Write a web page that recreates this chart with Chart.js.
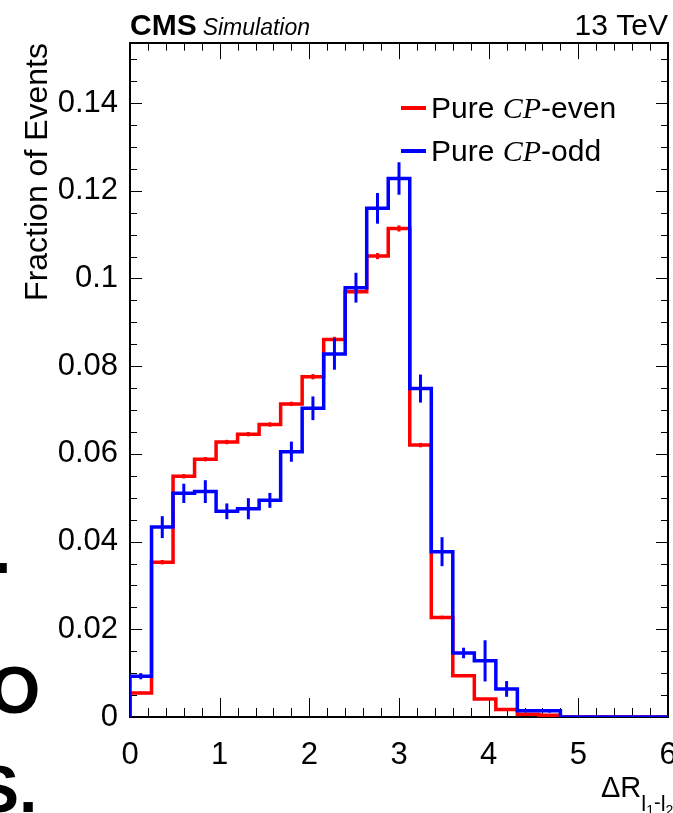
<!DOCTYPE html>
<html>
<head>
<meta charset="utf-8">
<title>Delta R l1-l2</title>
<script src="https://cdn.jsdelivr.net/npm/chart.js@4.4.0/dist/chart.umd.min.js"></script>
<style>
  html, body { margin: 0; padding: 0; background: #fff; }
  #wrap { width: 673px; height: 813px; position: relative; }
</style>
</head>
<body>
<div id="wrap"><canvas id="drChart"></canvas></div>
<script>
// Delta R between the two leptons, normalised to unit area (25 bins over 0..6)
const binWidth = 0.24
const binEdges = [0, 0.24, 0.48, 0.72, 0.96, 1.2, 1.44, 1.68, 1.92, 2.16, 2.4, 2.64, 2.88,
  3.12, 3.36, 3.6, 3.84, 4.08, 4.32, 4.56, 4.8, 5.04, 5.28, 5.52, 5.76, 6]

const evenValues = [0.0055, 0.0353, 0.0549, 0.0588, 0.0627, 0.0645, 0.0667, 0.0714, 0.0776, 0.0861,
  0.0970, 0.1051, 0.1114, 0.0620, 0.0227, 0.0094, 0.0041, 0.0017, 0.0006, 0.0004, 0, 0, 0, 0, 0]
const evenErrors = [0.0003, 0.0005, 0.0005, 0.0005, 0.0005, 0.0005, 0.0005, 0.0005, 0.0006, 0.0006,
  0.0006, 0.0007, 0.0007, 0.0005, 0.0004, 0.0003, 0.0002, 0.0001, 0.0001, 0.0001, 0, 0, 0, 0, 0]

const oddValues = [0.0093, 0.0433, 0.0510, 0.0514, 0.0469, 0.0475, 0.0494, 0.0605, 0.0704, 0.0828,
  0.0979, 0.1160, 0.1228, 0.0749, 0.0377, 0.0146, 0.0128, 0.0064, 0.0014, 0.0014, 0, 0, 0, 0, 0]
const oddErrors = [0.0007, 0.0025, 0.0022, 0.0026, 0.0018, 0.0024, 0.0017, 0.0023, 0.0027, 0.0036,
  0.0034, 0.0035, 0.0037, 0.0032, 0.0033, 0.0012, 0.0047, 0.0018, 0.0003, 0.0004, 0, 0, 0, 0, 0]

const xTicks = [0, 1, 2, 3, 4, 5, 6]
const yTicks = [0, 0.02, 0.04, 0.06, 0.08, 0.1, 0.12, 0.14]

const RED = '#ff0000'
const BLUE = '#0000ff'
const SANS = '"Liberation Sans", Arial, Helvetica, sans-serif'

// histogram as a step line: start at 0, then one point per left bin edge, close at 6
function stepPoints(values) {
  const pts = [{ x: binEdges[0], y: 0 }]
  values.forEach((v, i) => pts.push({ x: binEdges[i], y: v }))
  pts.push({ x: binEdges[binEdges.length - 1], y: values[values.length - 1] })
  return pts
}

const rootStyle = {
  id: 'rootStyle',
  beforeDraw(chart) {
    const ctx = chart.ctx
    ctx.save()
    ctx.fillStyle = '#fff'
    ctx.fillRect(0, 0, chart.width, chart.height)
    ctx.restore()
  },
  beforeDatasetsDraw(chart) {
    const { ctx, chartArea: a, scales } = chart
    const xs = scales.x, ys = scales.y
    ctx.save()
    ctx.strokeStyle = '#000'
    ctx.lineWidth = 1
    // x ticks: minor every 0.2, major every 1 (bottom and top)
    for (let k = 0; k <= 30; k++) {
      const px = Math.round(xs.getPixelForValue(k * 0.2)) + 0.5
      const len = k % 5 === 0 ? 19 : 9
      ctx.beginPath()
      ctx.moveTo(px, a.bottom); ctx.lineTo(px, a.bottom - len)
      ctx.moveTo(px, a.top); ctx.lineTo(px, a.top + len * 0.85)
      ctx.stroke()
    }
    // y ticks: minor every 0.005, major every 0.02 (left and right)
    for (let k = 0; k * 0.005 <= ys.max + 1e-9; k++) {
      const py = Math.round(ys.getPixelForValue(k * 0.005)) + 0.5
      const len = k % 4 === 0 ? 12 : 7
      ctx.beginPath()
      ctx.moveTo(a.left, py); ctx.lineTo(a.left + len, py)
      ctx.moveTo(a.right, py); ctx.lineTo(a.right - len, py)
      ctx.stroke()
    }
    ctx.lineWidth = 2
    ctx.strokeRect(a.left, a.top, a.right - a.left, a.bottom - a.top)
    ctx.restore()
  },
  afterDatasetDraw(chart, args) {
    const ds = chart.data.datasets[args.index]
    const errs = ds.errors, vals = ds.values
    const { ctx, scales } = chart
    ctx.save()
    ctx.strokeStyle = ds.borderColor
    ctx.lineWidth = 3
    vals.forEach((v, i) => {
      if (!errs[i]) return
      const px = scales.x.getPixelForValue(binEdges[i] + binWidth / 2)
      ctx.beginPath()
      ctx.moveTo(px, scales.y.getPixelForValue(v - errs[i]))
      ctx.lineTo(px, scales.y.getPixelForValue(v + errs[i]))
      ctx.stroke()
    })
    ctx.restore()
  },
  afterDraw(chart) {
    const { ctx, chartArea: a } = chart
    ctx.save()
    ctx.fillStyle = '#000'
    ctx.textBaseline = 'alphabetic'

    // header
    ctx.font = 'bold 30px ' + SANS
    ctx.textAlign = 'left'
    ctx.fillText('CMS', a.left, 35)
    const cmsW = ctx.measureText('CMS').width
    ctx.font = 'italic 23px ' + SANS
    ctx.fillText('Simulation', a.left + cmsW + 6, 35)
    ctx.font = '30px ' + SANS
    ctx.textAlign = 'right'
    ctx.fillText('13 TeV', a.right, 35)

    // y title, aligned to the top of the axis
    ctx.save()
    ctx.translate(47, a.top)
    ctx.rotate(-Math.PI / 2)
    ctx.font = '32px ' + SANS
    ctx.textAlign = 'right'
    ctx.fillText('Fraction of Events', 0, 0)
    ctx.restore()

    // x title: ΔR_{l1-l2}
    ctx.textAlign = 'left'
    let x = 601
    const base = 797
    const parts = [
      ['ΔR', '29px', 0], ['l', '22px', 14], ['1', '14px', 18], ['-', '20px', 12],
      ['l', '22px', 14], ['2', '14px', 18]
    ]
    parts.forEach(([t, size, dy]) => {
      ctx.font = size + ' ' + SANS
      ctx.fillText(t, x, base + dy)
      x += ctx.measureText(t).width
    })

    // legend
    const legend = [[RED, '-even', 108], [BLUE, '-odd', 151]]
    legend.forEach(([col, tail, y]) => {
      ctx.strokeStyle = col
      ctx.lineWidth = 4
      ctx.beginPath(); ctx.moveTo(401, y); ctx.lineTo(426, y); ctx.stroke()
      let lx = 431
      const by = y + 10
      ctx.font = '30px ' + SANS
      ctx.fillText('Pure ', lx, by); lx += ctx.measureText('Pure ').width
      ctx.font = 'italic 30px "Liberation Serif", "Times New Roman", serif'
      ctx.fillText('CP', lx, by); lx += ctx.measureText('CP').width
      ctx.font = '30px ' + SANS
      ctx.fillText(tail, lx, by)
    })

    // bits of text from the neighbouring slide, cut by the left edge
    ctx.font = 'bold 66px ' + SANS
    ctx.fillText('.', -7, 573)
    ctx.fillText('O', -11, 713)
    ctx.fillText('S.', -25, 812)
    ctx.restore()
  }
}

const ctx = document.getElementById('drChart').getContext('2d')
new Chart(ctx, {
  type: 'line',
  data: {
    datasets: [
      { label: 'Pure CP-even', data: stepPoints(evenValues), values: evenValues, errors: evenErrors,
        borderColor: RED, borderWidth: 3.5, stepped: 'before', pointRadius: 0, fill: false, order: 2 },
      { label: 'Pure CP-odd', data: stepPoints(oddValues), values: oddValues, errors: oddErrors,
        borderColor: BLUE, borderWidth: 3.5, stepped: 'before', pointRadius: 0, fill: false, order: 1 }
    ]
  },
  options: {
    responsive: true,
    maintainAspectRatio: false,
    animation: false,
    events: [],
    layout: { padding: { left: 0, right: 5, top: 43, bottom: 0 } },
    plugins: { legend: { display: false }, tooltip: { enabled: false } },
    elements: { line: { borderJoinStyle: 'miter', borderCapStyle: 'butt', tension: 0 } },
    scales: {
      x: {
        type: 'linear', min: 0, max: 6,
        grid: { display: false, drawTicks: false },
        border: { display: false },
        afterBuildTicks: (s) => { s.ticks = xTicks.map((v) => ({ value: v })) },
        afterFit: (s) => { s.height = 96; s.paddingLeft = 0; s.paddingRight = 0 },
        ticks: { maxRotation: 0, autoSkip: false, padding: 20, color: '#000',
          font: { family: SANS, size: 31 }, callback: (v) => String(v) }
      },
      y: {
        type: 'linear', min: 0, max: 0.1537,
        grid: { display: false, drawTicks: false },
        border: { display: false },
        afterBuildTicks: (s) => { s.ticks = yTicks.map((v) => ({ value: v })) },
        afterFit: (s) => { s.width = 130; s.paddingTop = 0; s.paddingBottom = 0 },
        ticks: { padding: 12, color: '#000', font: { family: SANS, size: 31 },
          callback: (v) => String(+v.toFixed(2)) }
      }
    }
  },
  plugins: [rootStyle]
})
</script>
</body>
</html>
